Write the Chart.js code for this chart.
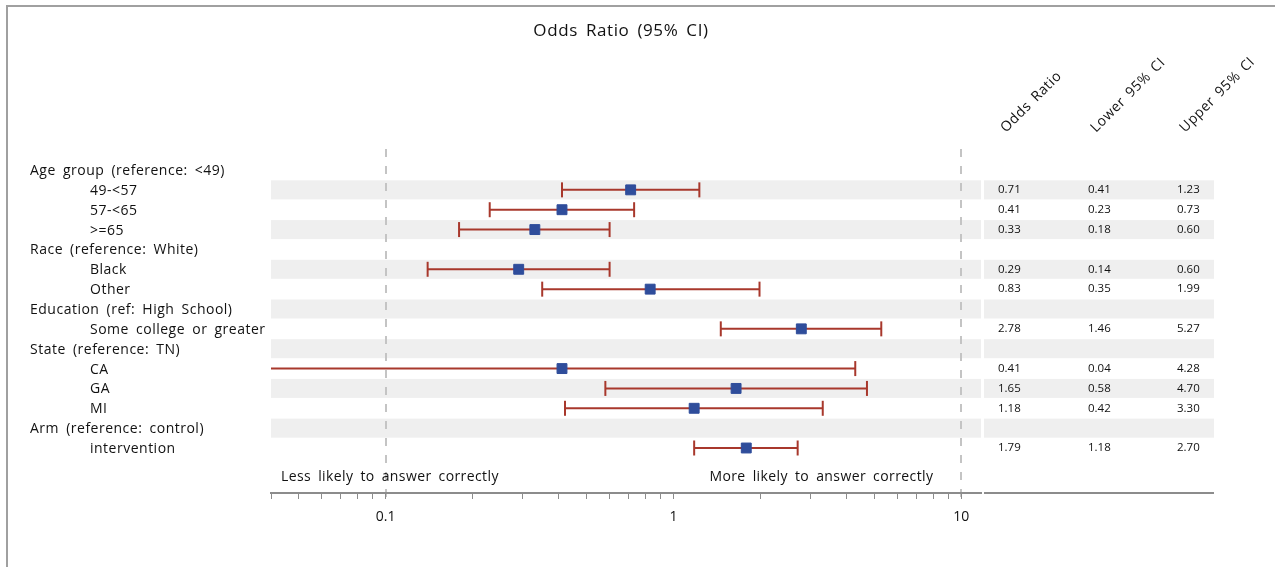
<!DOCTYPE html>
<html>
<head>
<meta charset="utf-8">
<style>
  html, body { margin: 0; padding: 0; background: #fff; }
  #wrap { width: 1275px; height: 567px; }
</style>
<script src="https://cdn.jsdelivr.net/npm/chart.js@4"></script>
</head>
<body>
<div id="wrap"><canvas id="forest" width="1275" height="567"></canvas></div>
<script>
// Forest plot: odds ratios with 95% CI, log x axis, table on the right.
const GROUPS = [
  "Age group (reference: <49)",
  "Race (reference: White)",
  "Education (ref: High School)",
  "State (reference: TN)",
  "Arm (reference: control)",
];
const CATEGORIES = ["49-<57", "57-<65", ">=65", "Black", "Other",
  "Some college or greater", "CA", "GA", "MI", "intervention"];
const CATEGORY_GROUP = [0, 0, 0, 1, 1, 2, 3, 3, 3, 4];
const ODDS_RATIO = [0.71, 0.41, 0.33, 0.29, 0.83, 2.78, 0.41, 1.65, 1.18, 1.79];
const LOWER_CI   = [0.41, 0.23, 0.18, 0.14, 0.35, 1.46, 0.04, 0.58, 0.42, 1.18];
const UPPER_CI   = [1.23, 0.73, 0.60, 0.60, 1.99, 5.27, 4.28, 4.70, 3.30, 2.70];

const MAJOR_TICKS = [0.1, 1, 10];
const MINOR_TICKS = [0.04, 0.05, 0.06, 0.07, 0.08, 0.09,
  0.2, 0.3, 0.4, 0.5, 0.6, 0.7, 0.8, 0.9, 2, 3, 4, 5, 6, 7, 8, 9];
const REF_LINES = [0.1, 10];
const TABLE_HEADERS = ["Odds Ratio", "Lower 95% CI", "Upper 95% CI"];
const DIRECTION_LABELS = ["Less likely to answer correctly", "More likely to answer correctly"];
const TITLE = "Odds Ratio (95% CI)";

const X_MIN = 0.04;
const X_MAX = 11.7;

const FONT = "'Open Sans', 'DejaVu Sans', sans-serif";
const RED = "#a8382c";
const BLUE = "#2f4d9b";
const BAND = "#efefef";
const AXIS = "#8c8c8c";
const REF = "#c4c4c4";
const FRAME = "#a0a0a0";
const TEXT = "#111";

Chart.defaults.font.family = FONT;
Chart.defaults.color = TEXT;

// rows: group header followed by its categories
const rows = [];
const catRow = [];
GROUPS.forEach((g, gi) => {
  rows.push({ label: g, header: true });
  CATEGORY_GROUP.forEach((cg, ci) => {
    if (cg !== gi) return;
    catRow[ci] = rows.length;
    rows.push({ label: CATEGORIES[ci], header: false, cat: ci });
  });
});
const ROW_H = 19.857;
// y range so row 0 sits 25px under the top of the plot and the axis 45px under the last row
const Y_MIN = -25 / ROW_H;
const Y_MAX = rows.length - 1 + 45 / ROW_H;

const whiskers = CATEGORIES.map((c, i) => ({
  type: "scatter",
  label: c,
  showLine: true,
  order: 1,
  data: [{ x: LOWER_CI[i], y: catRow[i] }, { x: UPPER_CI[i], y: catRow[i] }],
  borderColor: RED,
  borderWidth: 2,
  pointStyle: "line",
  rotation: 90,
  // clipped end (at the axis minimum) gets no cap
  pointRadius: (ctx) => (ctx.raw && ctx.raw.x <= X_MIN ? 0 : 7.5),
  pointHoverRadius: (ctx) => (ctx.raw && ctx.raw.x <= X_MIN ? 0 : 7.5),
  pointBorderColor: RED,
  pointBorderWidth: 2,
}));

const squares = {
  type: "scatter",
  label: "Odds Ratio",
  order: 0,
  data: ODDS_RATIO.map((v, i) => ({ x: v, y: catRow[i] })),
  pointStyle: "rect",
  pointRadius: 7,
  pointHoverRadius: 7,
  backgroundColor: BLUE,
  borderColor: BLUE,
  borderWidth: 1,
};

function spaced(ctx, letter, word) {
  ctx.letterSpacing = letter + "px";
  ctx.wordSpacing = word + "px";
}

const decor = {
  id: "decor",
  beforeDraw(chart) {
    const { ctx, chartArea: a, scales: { x, y } } = chart;
    const tLeft = a.right + 3, tRight = 1214;
    const colX = [tLeft + 14, tLeft + 104, tLeft + 193];
    ctx.save();

    // frame (top + left)
    ctx.strokeStyle = FRAME;
    ctx.lineWidth = 2;
    ctx.beginPath();
    ctx.moveTo(7, chart.height);
    ctx.lineTo(7, 6);
    ctx.lineTo(chart.width, 6);
    ctx.stroke();

    // alternating bands
    ctx.fillStyle = BAND;
    rows.forEach((r, i) => {
      if (i % 2 === 0) return;
      const yc = y.getPixelForValue(i);
      ctx.fillRect(a.left, yc - 9.5, a.right - a.left, 19);
      ctx.fillRect(tLeft, yc - 9.5, tRight - tLeft, 19);
    });

    // dashed reference lines
    ctx.strokeStyle = REF;
    ctx.lineWidth = 2;
    ctx.setLineDash([8, 9]);
    ctx.lineDashOffset = 13;
    REF_LINES.forEach((v) => {
      const px = Math.round(x.getPixelForValue(v));
      ctx.beginPath();
      ctx.moveTo(px, a.top);
      ctx.lineTo(px, a.bottom + 7);
      ctx.stroke();
    });
    ctx.setLineDash([]);

    // table axis line
    ctx.strokeStyle = AXIS;
    ctx.lineWidth = 2;
    ctx.beginPath();
    ctx.moveTo(tLeft, a.bottom);
    ctx.lineTo(tRight, a.bottom);
    ctx.stroke();

    // title
    ctx.fillStyle = TEXT;
    ctx.textBaseline = "middle";
    ctx.textAlign = "center";
    ctx.font = "17px " + FONT;
    spaced(ctx, 0.6, 3);
    ctx.fillText(TITLE, 621, 31);

    // row labels
    ctx.textAlign = "left";
    ctx.font = "14px " + FONT;
    spaced(ctx, 0.5, 3);
    rows.forEach((r, i) => {
      ctx.fillText(r.label, r.header ? 30 : 90, y.getPixelForValue(i) + 1);
    });

    // direction labels
    const yd = a.bottom - 16;
    spaced(ctx, 0.4, 3);
    ctx.fillText(DIRECTION_LABELS[0], a.left + 10, yd);
    ctx.textAlign = "right";
    ctx.fillText(DIRECTION_LABELS[1], x.getPixelForValue(10) - 28, yd);

    // table values
    ctx.textAlign = "left";
    ctx.font = "11.5px " + FONT;
    spaced(ctx, 0, 0);
    rows.forEach((r, i) => {
      if (r.header) return;
      const yc = y.getPixelForValue(i);
      [ODDS_RATIO, LOWER_CI, UPPER_CI].forEach((arr, k) => {
        ctx.fillText(arr[r.cat].toFixed(2), colX[k], yc);
      });
    });

    // rotated headers
    ctx.font = "14px " + FONT;
    ctx.textBaseline = "alphabetic";
    spaced(ctx, 0.6, 2);
    TABLE_HEADERS.forEach((h, k) => {
      ctx.save();
      ctx.translate(colX[k] + 8, 133);
      ctx.rotate(-Math.PI / 4);
      ctx.fillText(h, 0, 0);
      ctx.restore();
    });

    ctx.restore();
  },
};

new Chart(document.getElementById("forest"), {
  type: "scatter",
  data: { datasets: [squares, ...whiskers] },
  options: {
    responsive: false,
    animation: false,
    events: [],
    layout: { padding: { left: 271, right: 294, top: 145, bottom: 0 } },
    plugins: { legend: { display: false }, tooltip: { enabled: false }, title: { display: false } },
    scales: {
      x: {
        type: "logarithmic",
        min: X_MIN,
        max: X_MAX,
        afterBuildTicks: (s) => {
          s.ticks = [...MINOR_TICKS, ...MAJOR_TICKS].sort((p, q) => p - q).map((v) => ({ value: v }));
        },
        afterFit: (s) => { s.height = 74; },
        ticks: {
          autoSkip: false,
          maxRotation: 0,
          padding: 10,
          color: TEXT,
          font: { size: 14 },
          callback: (v) => (MAJOR_TICKS.includes(v) ? String(v) : ""),
        },
        grid: { drawOnChartArea: false, drawTicks: true, tickLength: 6, tickColor: AXIS, tickWidth: 1 },
        border: { color: AXIS, width: 2 },
      },
      y: {
        type: "linear",
        display: false,
        reverse: true,
        min: Y_MIN,
        max: Y_MAX,
      },
    },
  },
  plugins: [decor],
});
</script>
</body>
</html>
